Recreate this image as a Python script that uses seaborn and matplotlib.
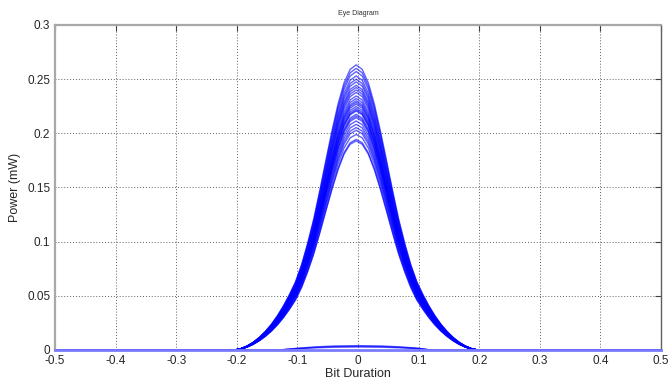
import numpy as np
import pandas as pd
import matplotlib
matplotlib.use("Agg")
import matplotlib.pyplot as plt
import seaborn as sns

# ---------------- data ----------------
# normalised pulse profile (one side, |t| = 0 .. 0.2 step 0.01)
profile_abs_t = [0.00, 0.01, 0.02, 0.03, 0.04, 0.05, 0.06, 0.07, 0.08, 0.09, 0.10,
                 0.11, 0.12, 0.13, 0.14, 0.15, 0.16, 0.17, 0.18, 0.19, 0.20]
profile_vals = [1.000, 0.984, 0.937, 0.862, 0.768, 0.665, 0.560, 0.460, 0.375, 0.300, 0.240,
                0.195, 0.155, 0.120, 0.090, 0.065, 0.044, 0.027, 0.014, 0.005, 0.000]
pulse_center = -0.003

# peak powers (mW) of the '1' traces
peak_powers = [0.2632, 0.2600, 0.2570, 0.2530, 0.2500, 0.2475, 0.2444, 0.2423, 0.2400,
               0.2377, 0.2345, 0.2321, 0.2300, 0.2285, 0.2269, 0.2247, 0.2229, 0.2215,
               0.2206, 0.2176, 0.2160, 0.2145, 0.2114, 0.2083, 0.2053, 0.2028, 0.1990,
               0.1944, 0.1930]

# small '0' bumps
bump_t = [-0.50, -0.13, -0.10, -0.07, -0.04, 0.00, 0.04, 0.07, 0.10, 0.12, 0.50]
bump_shape = [0.0, 0.0, 0.40, 0.72, 0.92, 1.00, 0.92, 0.72, 0.40, 0.0, 0.0]
bump_peaks = [0.0028, 0.0034, 0.0040]

x_ticks = [-0.5, -0.4, -0.3, -0.2, -0.1, 0.0, 0.1, 0.2, 0.3, 0.4, 0.5]
x_labels = ["-0.5", "-0.4", "-0.3", "-0.2", "-0.1", "0", "0.1", "0.2", "0.3", "0.4", "0.5"]
y_ticks = [0.0, 0.05, 0.10, 0.15, 0.20, 0.25, 0.30]
y_labels = ["0", "0.05", "0.1", "0.15", "0.2", "0.25", "0.3"]

# ---------------- build long table ----------------
full_t = [-0.5] + [pulse_center - a for a in profile_abs_t[::-1]] + \
         [pulse_center + a for a in profile_abs_t[1:]] + [0.5]
full_v = [0.0] + profile_vals[::-1] + profile_vals[1:] + [0.0]

rows = []
tid = 0
for pk in peak_powers:
    for t, v in zip(full_t, full_v):
        rows.append({"t": t, "p": pk * v, "trace": tid})
    tid += 1
for bp in bump_peaks:
    for t, v in zip(bump_t, bump_shape):
        rows.append({"t": t, "p": bp * v, "trace": tid})
    tid += 1
df = pd.DataFrame(rows)

# ---------------- plot ----------------
sns.set_style("white")
plt.rcParams["font.family"] = ["Liberation Sans", "DejaVu Sans"]

fig = plt.figure(figsize=(6.72, 3.83), dpi=100)
ax = fig.add_axes([55 / 672, 1 - 350 / 383, (661 - 55) / 672, (350 - 25) / 383])

sns.lineplot(data=df, x="t", y="p", units="trace", estimator=None, sort=False,
             color="#0000ff", alpha=0.62, linewidth=1.0, legend=False, ax=ax)

ax.set_xlim(-0.5, 0.5)
ax.set_ylim(0, 0.3)
ax.set_xticks(x_ticks)
ax.set_xticklabels(x_labels)
ax.set_yticks(y_ticks)
ax.set_yticklabels(y_labels)

ax.grid(True, color="#606060", linestyle=(0, (1, 2)), linewidth=0.7)
ax.set_axisbelow(True)

ax.tick_params(axis="both", direction="in", length=4, width=0.8, color="#404040",
               labelsize=8.5, labelcolor="#262626", pad=3.5, top=True, right=True)

for side in ["left", "top"]:
    ax.spines[side].set_color("#a8a8a8")
    ax.spines[side].set_linewidth(1.6)
ax.spines["bottom"].set_color("#7b7bff")
ax.spines["bottom"].set_linewidth(2.0)
ax.spines["right"].set_color("#606060")
ax.spines["right"].set_linewidth(1.0)

ax.set_title("Eye Diagram", fontsize=5, color="#303030", pad=7)
ax.set_xlabel("Bit Duration", fontsize=9, color="#262626", labelpad=1)
ax.set_ylabel("Power (mW)", fontsize=9, color="#262626", labelpad=4)

fig.savefig("out.png", dpi=100, facecolor="white")
